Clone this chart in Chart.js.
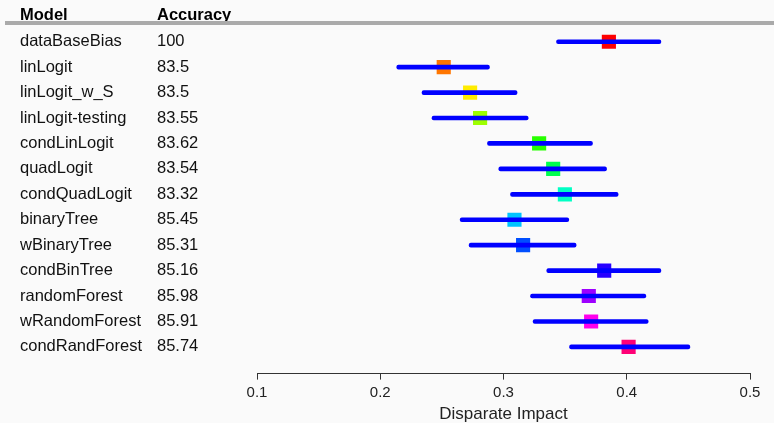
<!DOCTYPE html>
<html>
<head>
<meta charset="utf-8">
<script src="https://cdn.jsdelivr.net/npm/chart.js@4"></script>
<style>
  html, body { margin: 0; padding: 0; background: #fafafa; }
  #wrap { width: 774px; height: 423px; position: relative; }
</style>
</head>
<body>
<div id="wrap"><canvas id="chart" width="774" height="423"></canvas></div>
<script>
// models and their accuracy (table on the left)
const models = ['dataBaseBias', 'linLogit', 'linLogit_w_S', 'linLogit-testing', 'condLinLogit', 'quadLogit',
  'condQuadLogit', 'binaryTree', 'wBinaryTree', 'condBinTree', 'randomForest', 'wRandomForest', 'condRandForest'];
const accuracy = ['100', '83.5', '83.5', '83.55', '83.62', '83.54', '83.32', '85.45', '85.31', '85.16', '85.98', '85.91', '85.74'];

// disparate impact estimate + interval
const impact = [0.3855, 0.2515, 0.2729, 0.2810, 0.3289, 0.3403, 0.3498, 0.3089, 0.3159, 0.3817, 0.3692, 0.3711, 0.4015];
const lower  = [0.3430, 0.2134, 0.2339, 0.2420, 0.2870, 0.2962, 0.3057, 0.2648, 0.2721, 0.3351, 0.3219, 0.3240, 0.3536];
const upper  = [0.4277, 0.2886, 0.3110, 0.3200, 0.3722, 0.3836, 0.3930, 0.3530, 0.3589, 0.4277, 0.4155, 0.4174, 0.4512];

const xTicks = [0.1, 0.2, 0.3, 0.4, 0.5];

// rainbow(13)
const colors = ['#FF0000', '#FF7600', '#FFEC00', '#9DFF00', '#27FF00', '#00FF4E', '#00FFC4',
  '#00C4FF', '#004EFF', '#2700FF', '#9D00FF', '#FF00EC', '#FF0076'];

const FONT = '"Liberation Sans", Arial, sans-serif';

// table text + header rule
const tablePlugin = {
  id: 'table',
  afterDraw(chart) {
    const ctx = chart.ctx;
    const y = chart.scales.y;
    ctx.save();
    ctx.fillStyle = '#000';
    ctx.textBaseline = 'middle';
    ctx.font = 'bold 16.5px ' + FONT;
    ctx.fillText('Model', 20, 15.5);
    ctx.fillText('Accuracy', 157, 15.5);
    ctx.strokeStyle = '#aaaaaa';
    ctx.lineWidth = 4;
    ctx.beginPath();
    ctx.moveTo(5, 23);
    ctx.lineTo(774, 23);
    ctx.stroke();
    ctx.fillStyle = '#111';
    ctx.font = '16.5px ' + FONT;
    models.forEach((m, i) => {
      const py = y.getPixelForValue(i);
      ctx.fillText(m, 20, py);
      ctx.fillText(accuracy[i], 157, py);
    });
    ctx.restore();
  }
};

new Chart(document.getElementById('chart'), {
  type: 'bar',
  data: {
    datasets: [
      {
        type: 'bar',
        data: models.map((m, i) => ({ x: [lower[i], upper[i]], y: i })),
        backgroundColor: '#0000FF',
        barThickness: 4,
        borderRadius: 2,
        borderSkipped: false,
        order: 0
      },
      {
        type: 'scatter',
        data: models.map((m, i) => ({ x: impact[i], y: i })),
        pointStyle: 'rect',
        pointRadius: 10,
        backgroundColor: colors,
        borderWidth: 0,
        order: 1
      }
    ]
  },
  options: {
    indexAxis: 'y',
    responsive: false,
    animation: false,
    layout: { padding: { left: 257, right: 24, top: 29, bottom: -2 } },
    plugins: { legend: { display: false }, tooltip: { enabled: false } },
    scales: {
      x: {
        type: 'linear',
        min: 0.1,
        max: 0.5,
        afterBuildTicks(s) { s.ticks = xTicks.map(v => ({ value: v })); },
        grid: { drawOnChartArea: false, drawTicks: true, tickLength: 6, color: '#333' },
        border: { color: '#333', width: 1 },
        ticks: { color: '#222', font: { family: FONT, size: 15 }, padding: 4, maxRotation: 0 },
        title: { display: true, text: 'Disparate Impact', color: '#222', font: { family: FONT, size: 17 }, padding: { top: -1, bottom: 0 } }
      },
      y: {
        type: 'linear',
        reverse: true,
        offset: false,
        min: -0.5,
        max: 13.05,
        display: false
      }
    }
  },
  plugins: [tablePlugin]
});
</script>
</body>
</html>
